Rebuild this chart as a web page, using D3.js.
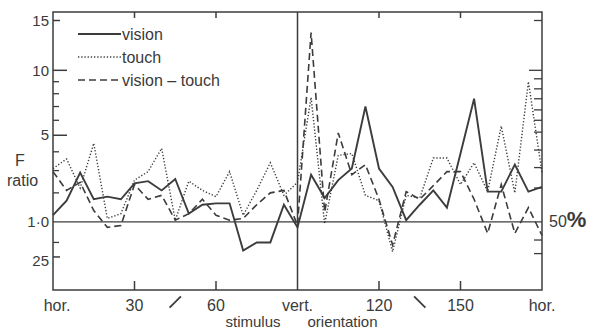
<!DOCTYPE html>
<html>
<head>
<meta charset="utf-8">
<script src="https://cdn.jsdelivr.net/npm/d3@7/dist/d3.min.js"></script>
<style>
  body { margin: 0; background: #fff; }
  text { font-family: "Liberation Sans", Arial, sans-serif; fill: #3a3a3a; }
</style>
</head>
<body>
<div id="chart"></div>
<script>
// orientation samples, every 5 deg from hor. to hor.
var angles = d3.range(0, 181, 5);

var vision = [1.2, 1.7, 2.9, 1.75, 1.85, 1.75, 2.4, 2.5, 2.1, 2.6, 1.25, 1.55, 1.6,
  1.6, 0.35, 0.5, 0.5, 1.55, 0.85, 2.8, 1.8, 2.55, 3.1, 7.0, 3.1, 2.25, 1.05,
  1.55, 2.1, 1.45, 3.9, 7.6, 2.05, 2.05, 3.3, 2.05, 2.25];

var touch = [3.1, 3.6, 2.2, 4.5, 1.1, 1.25, 2.55, 2.95, 4.2, 1.05, 2.5, 2.1, 1.85,
  2.95, 1.2, 2.1, 3.4, 1.9, 2.45, 7.7, 0.95, 3.8, 3.9, 1.9, 1.7, 0.33, 1.9,
  1.8, 3.65, 3.65, 2.35, 3.4, 2.05, 5.6, 2.0, 9.0, 2.9];

var visionTouch = [2.95, 2.1, 2.45, 1.35, 0.85, 0.9, 2.35, 1.75, 1.9, 1.05, 1.25, 1.75, 1.2,
  1.05, 1.1, 1.55, 2.0, 2.1, 0.9, 13.7, 1.3, 5.15, 2.8, 3.3, 1.75, 0.45, 2.05,
  1.75, 2.3, 2.95, 2.95, 1.75, 0.7, 2.35, 0.7, 1.45, 0.65];

var seriesNames = ["vision", "touch", "vision \u2013 touch"];

var yMajor = [15, 10, 5, 1, 0.25];
var yMajorLabels = ["15", "10", "5", "1\u00b70", "25"];
var yMinor = [9, 8, 7, 6, 4, 3, 2, 0.5];
var rightTicks = [15, 10, 9.25, 8.4, 7.6, 6.75, 6, 5.2, 4.1, 3.15, 2.2, 0.55, 0.3];
var xTicks = [30, 60, 120, 150];
var xLabelValues = [0, 30, 60, 90, 120, 150, 180];
var xLabelText = ["hor.", "30", "60", "vert.", "120", "150", "hor."];

var W = 590, H = 332;
var margin = {top: 12, right: 48, bottom: 42, left: 53},
    width = W - margin.left - margin.right,
    height = H - margin.top - margin.bottom;

var svg = d3.select("#chart").append("svg")
    .attr("width", W)
    .attr("height", H)
  .append("g")
    .attr("transform", "translate(" + margin.left + "," + margin.top + ")");

var x = d3.scaleLinear().domain([0, 180]).range([0, width]);
// F ratio axis is square-root spaced
var y = d3.scaleSqrt().domain([0, 15]).range([height + 2, 8.5]);

var ink = "#3c3c3c";

// frame
svg.append("rect")
  .attr("width", width).attr("height", height)
  .attr("fill", "none").attr("stroke", ink).attr("stroke-width", 1.5);

// 1.0 baseline and vertical line
svg.append("line")
  .attr("x1", 0).attr("x2", width)
  .attr("y1", y(1)).attr("y2", y(1))
  .attr("stroke", ink).attr("stroke-width", 1.3);
svg.append("line")
  .attr("x1", x(90)).attr("x2", x(90))
  .attr("y1", 0).attr("y2", height)
  .attr("stroke", ink).attr("stroke-width", 1.5);

// left ticks
svg.selectAll(".ymaj").data(yMajor.filter(function(d) { return d != 1; }))
  .enter().append("line")
  .attr("x1", 0)
  .attr("x2", function(d) { return (d == 10 || d == 5) ? 14 : 7; })
  .attr("y1", function(d) { return y(d); })
  .attr("y2", function(d) { return y(d); })
  .attr("stroke", ink).attr("stroke-width", 1.5);
svg.selectAll(".ymin").data(yMinor)
  .enter().append("line")
  .attr("x1", 0).attr("x2", 6)
  .attr("y1", function(d) { return y(d); })
  .attr("y2", function(d) { return y(d); })
  .attr("stroke", ink).attr("stroke-width", 1.3);

svg.selectAll(".ylab").data(yMajor)
  .enter().append("text")
  .attr("x", -4)
  .attr("y", function(d) { return y(d) + (d == 0.25 ? 4 : 0); })
  .attr("dy", "0.35em")
  .attr("text-anchor", "end")
  .style("font-size", "15px")
  .text(function(d, i) { return yMajorLabels[i]; });

svg.append("text").attr("x", -33).attr("y", 160 - margin.top).attr("dy", "0.35em")
  .attr("text-anchor", "middle").style("font-size", "16px").text("F");
svg.append("text").attr("x", -46).attr("y", 180 - margin.top).attr("dy", "0.35em")
  .style("font-size", "16px").text("ratio");

// right ticks
svg.selectAll(".rt").data(rightTicks)
  .enter().append("line")
  .attr("x1", width)
  .attr("x2", function(d) { return width - (d == 10 ? 13 : 8); })
  .attr("y1", function(d) { return y(d); })
  .attr("y2", function(d) { return y(d); })
  .attr("stroke", ink).attr("stroke-width", 1.3);

var pct = svg.append("text")
  .attr("x", width + 7).attr("y", y(1)).attr("dy", "0.35em")
  .style("font-size", "16px");
pct.append("tspan").text("50");
pct.append("tspan").style("font-size", "22px").style("font-weight", "bold").text("%");

// x ticks top and bottom
svg.selectAll(".xb").data(xTicks)
  .enter().append("line")
  .attr("x1", function(d) { return x(d); })
  .attr("x2", function(d) { return x(d); })
  .attr("y1", height).attr("y2", height - 9)
  .attr("stroke", ink).attr("stroke-width", 1.5);
svg.selectAll(".xt").data(xTicks)
  .enter().append("line")
  .attr("x1", function(d) { return x(d); })
  .attr("x2", function(d) { return x(d); })
  .attr("y1", 0).attr("y2", 6)
  .attr("stroke", ink).attr("stroke-width", 1.5);

svg.selectAll(".xlab").data(xLabelValues)
  .enter().append("text")
  .attr("x", function(d) { return x(d) + (d == 0 ? 4 : 0); })
  .attr("y", height + 15)
  .attr("dy", "0.35em")
  .attr("text-anchor", "middle")
  .style("font-size", "16px")
  .text(function(d, i) { return xLabelText[i]; });

// orientation glyphs at 45 and 135 deg
[45, 135].forEach(function(a) {
  var cx = x(a), cy = height + 12, r = 8;
  var dx = r * Math.cos(a * Math.PI / 180), dy = r * Math.sin(a * Math.PI / 180);
  svg.append("line")
    .attr("x1", cx - dx).attr("y1", cy + dy)
    .attr("x2", cx + dx).attr("y2", cy - dy)
    .attr("stroke", ink).attr("stroke-width", 1.8);
});

svg.append("text").attr("x", x(90) - 17).attr("y", height + 32).attr("dy", "0.35em")
  .attr("text-anchor", "end").style("font-size", "15px").text("stimulus");
svg.append("text").attr("x", x(90) + 10).attr("y", height + 32).attr("dy", "0.35em")
  .style("font-size", "15px").text("orientation");

// series
var styles = [
  {data: vision, dash: null, w: 1.9},
  {data: touch, dash: "1.3,1.9", w: 1.4},
  {data: visionTouch, dash: "7,4", w: 1.6}
];

var line = d3.line()
  .x(function(d, i) { return x(angles[i]); })
  .y(function(d) { return y(d); });

styles.forEach(function(s) {
  svg.append("path")
    .datum(s.data)
    .attr("d", line)
    .attr("fill", "none")
    .attr("stroke", ink)
    .attr("stroke-width", s.w)
    .attr("stroke-linejoin", "miter")
    .attr("stroke-dasharray", s.dash);
});

// legend
var leg = svg.selectAll(".leg").data(styles)
  .enter().append("g")
  .attr("transform", function(d, i) { return "translate(25," + (22 + i * 23) + ")"; });
leg.append("line")
  .attr("x1", 0).attr("x2", 43)
  .attr("stroke", ink)
  .attr("stroke-width", function(d) { return d.w; })
  .attr("stroke-dasharray", function(d) { return d.dash; });
leg.append("text")
  .attr("x", 44).attr("dy", "0.35em")
  .style("font-size", "16px")
  .text(function(d, i) { return seriesNames[i]; });
</script>
</body>
</html>
